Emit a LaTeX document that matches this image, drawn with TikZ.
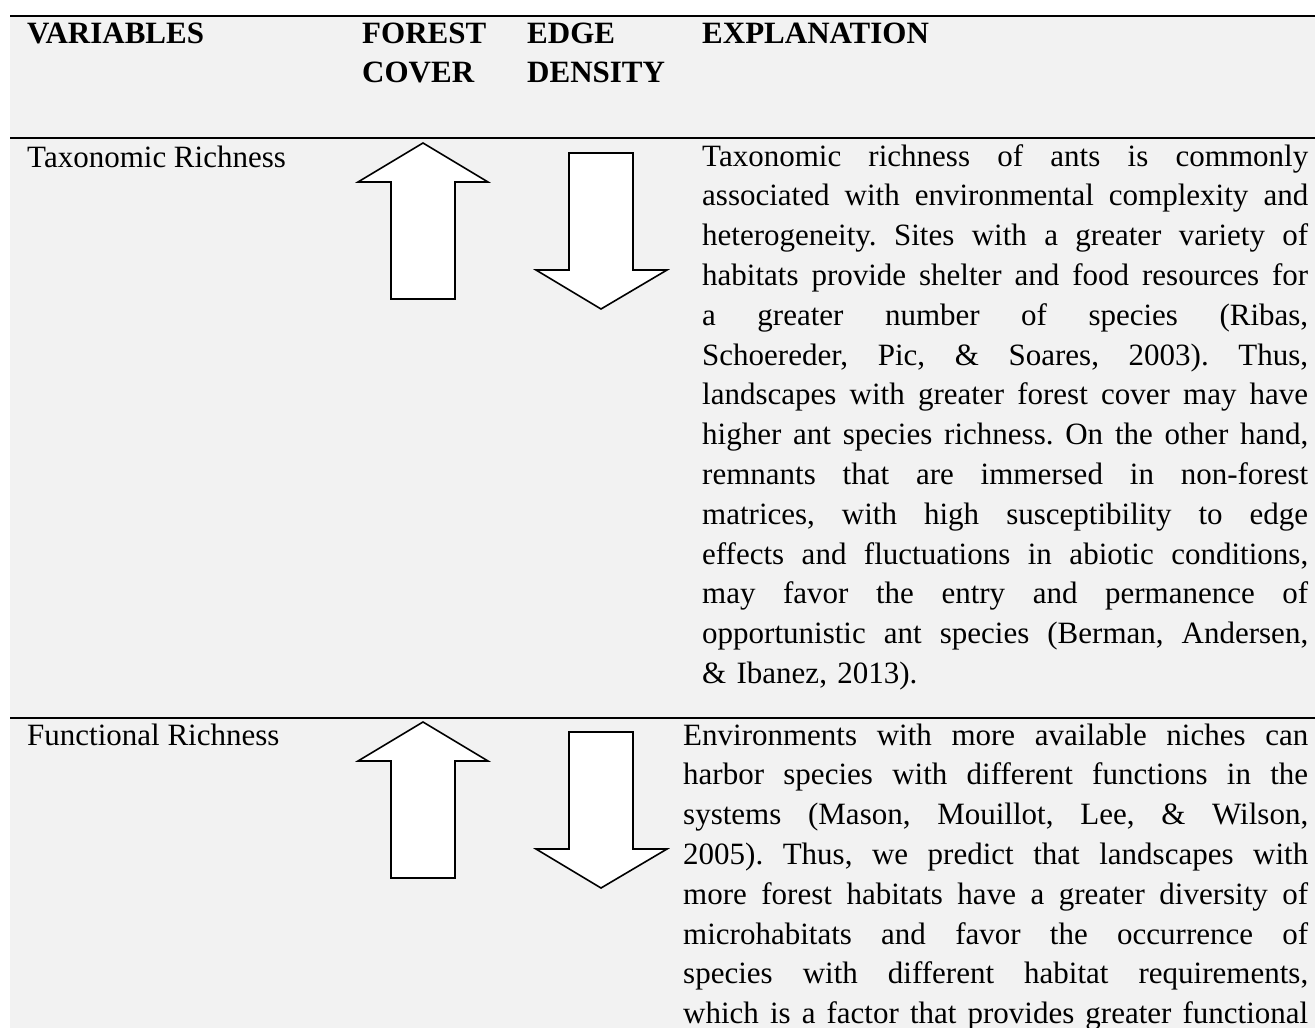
\documentclass[tikz,border=0pt]{standalone}
\usepackage{fontspec}
\setmainfont{Liberation Serif}
\frenchspacing
\definecolor{tablegray}{HTML}{F2F2F2}
\newcommand{\jline}[1]{{\spaceskip=0.25em plus 1fil\xspaceskip=0.25em plus 1fil\makebox[\hsize][s]{#1}}}
\tikzset{
  rule/.style={line width=2pt},
  blockarrow/.style={draw=black,fill=white,line width=1.6pt,line join=miter},
  cell/.style={anchor=base west,inner sep=0pt,font=\fontsize{31}{39.8}\selectfont},
  head/.style={cell,text width=#1,font=\fontsize{31}{39}\selectfont\bfseries},
  expl/.style={cell,text width=#1},
}
\begin{document}
\begin{tikzpicture}[x=1pt,y=-1pt]
\useasboundingbox (0,0) rectangle (1315,1028);
\fill[tablegray] (10,15.5) rectangle (1315,1028);

\coordinate (topl) at (10,15.5);
\coordinate (topr) at (1315,15.5);
\coordinate (midl) at (10,137.5);
\coordinate (midr) at (1315,137.5);
\coordinate (lowl) at (10,718);
\coordinate (lowr) at (1315,718);
\draw[rule] (topl) -- (topr);
\draw[rule] (midl) -- (midr);
\draw[rule] (lowl) -- (lowr);

\node[head=300pt] (hvar) at (27,43) {VARIABLES};
\node[head=150pt] (hforest) at (362,43) {FOREST\\COVER};
\node[head=150pt] (hedge) at (527,43) {EDGE\\DENSITY};
\node[head=300pt] (hexpl) at (702,43) {EXPLANATION};

\node[cell] (taxvar) at (27,167) {Taxonomic Richness};
\node[cell] (funvar) at (27,745) {Functional Richness};

\draw[blockarrow] (423,143) -- (488,182) -- (455,182) -- (455,299) -- (391,299) -- (391,182) -- (358,182) -- cycle;
\draw[blockarrow] (569,153) -- (633,153) -- (633,270) -- (667,270) -- (601,309) -- (536,270) -- (569,270) -- cycle;
\draw[blockarrow,shift={(0,579)}] (423,143) -- (488,182) -- (455,182) -- (455,299) -- (391,299) -- (391,182) -- (358,182) -- cycle;
\draw[blockarrow,shift={(0,579)}] (569,153) -- (633,153) -- (633,270) -- (667,270) -- (601,309) -- (536,270) -- (569,270) -- cycle;

\node[expl=606pt] (taxtext) at (702,166) {%
\jline{Taxonomic richness of ants is commonly}\\
\jline{associated with environmental complexity and}\\
\jline{heterogeneity. Sites with a greater variety of}\\
\jline{habitats provide shelter and food resources for}\\
\jline{a greater number of species (Ribas,}\\
\jline{Schoereder, Pic, \& Soares, 2003). Thus,}\\
\jline{landscapes with greater forest cover may have}\\
\jline{higher ant species richness. On the other hand,}\\
\jline{remnants that are immersed in non-forest}\\
\jline{matrices, with high susceptibility to edge}\\
\jline{effects and fluctuations in abiotic conditions,}\\
\jline{may favor the entry and permanence of}\\
\jline{opportunistic ant species (Berman, Andersen,}\\
\& Ibanez, 2013).};

\node[expl=625pt] (funtext) at (683,745) {%
\jline{Environments with more available niches can}\\
\jline{harbor species with different functions in the}\\
\jline{systems (Mason, Mouillot, Lee, \& Wilson,}\\
\jline{2005). Thus, we predict that landscapes with}\\
\jline{more forest habitats have a greater diversity of}\\
\jline{microhabitats and favor the occurrence of}\\
\jline{species with different habitat requirements,}\\
\jline{which is a factor that provides greater functional}};
\end{tikzpicture}
\end{document}
